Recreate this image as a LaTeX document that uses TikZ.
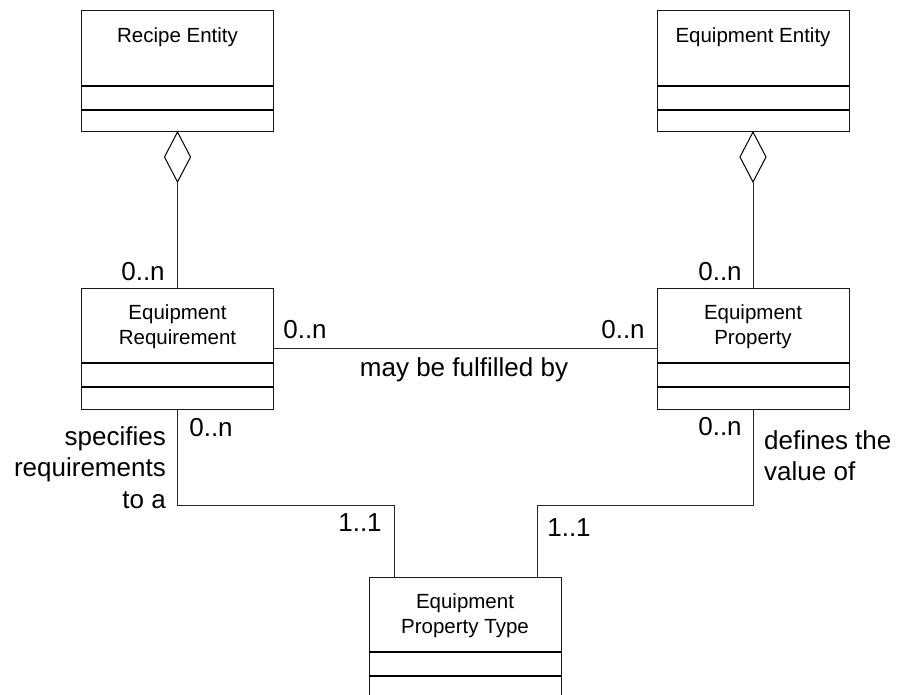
\documentclass[tikz,border=0pt]{standalone}
\usepackage{fontspec}
\setmainfont{Liberation Sans}
\usetikzlibrary{shapes.geometric}

\tikzset{
  classframe/.style={draw=black!90, line width=1pt, minimum width=192pt,
    minimum height=121pt, inner sep=0pt, outer sep=0pt},
  classtitle/.style={inner sep=0pt, align=center,
    font=\fontsize{20.5}{25}\selectfont},
  divider/.style={line width=1.5pt},
  aggr/.style={draw=black, line width=1pt, diamond, minimum width=26pt,
    minimum height=50pt, inner sep=0pt, outer sep=0pt},
  assoc/.style={draw=black!85, line width=1pt},
  lbl/.style={inner sep=0pt, font=\fontsize{26}{31.5}\selectfont},
}

% UML class box: name, centre x, top y, title text
\newcommand\classbox[4]{%
  \node[classframe, anchor=north] (#1) at (#2,#3) {};
  \node[classtitle, anchor=north] (#1-title) at ([yshift=-16pt]#1.north) {#4};
  \draw[divider] ([yshift=46pt]#1.south west) -- ([yshift=46pt]#1.south east);
  \draw[divider] ([yshift=22pt]#1.south west) -- ([yshift=22pt]#1.south east);
}

\begin{document}
\begin{tikzpicture}[x=1pt, y=-1pt]
  \useasboundingbox (0,0) rectangle (901,695);
  \clip (0,0) rectangle (901,695);

  % classes
  \classbox{re}{177.5}{11}{Recipe Entity}
  \classbox{ee}{753}{11}{Equipment Entity}
  \classbox{rq}{177.5}{288}{Equipment\\Requirement}
  \classbox{ep}{753}{288}{Equipment\\Property}
  \classbox{pt}{465}{577}{Equipment\\Property Type}

  % aggregations
  \node[aggr, anchor=north] (re-agg) at (re.south) {};
  \node[aggr, anchor=north] (ee-agg) at (ee.south) {};
  \draw[assoc] (re-agg.south) -- (rq.north);
  \draw[assoc] (ee-agg.south) -- (ep.north);
  \node[lbl] (m1) at (143,272) {0..n};
  \node[lbl] (m2) at (720,272) {0..n};

  % requirement -- property
  \draw[assoc] (rq.east) -- (ep.east -| ep.west);
  \node[lbl] (m3) at (305,330) {0..n};
  \node[lbl] (m4) at (623,330) {0..n};
  \node[lbl] (fulfil) at (464,370) {may be fulfilled by};

  % links to the property type
  \coordinate (jl) at (394,505);
  \coordinate (jr) at (537,505);
  \draw[assoc] (rq.south) |- (jl) -- (jl |- pt.north);
  \draw[assoc] (ep.south) |- (jr) -- (jr |- pt.north);
  \node[lbl] (m5) at (211,428) {0..n};
  \node[lbl] (m6) at (720,427) {0..n};
  \node[lbl] (m7) at (360,523) {1..1};
  \node[lbl] (m8) at (569,528) {1..1};
  \node[lbl, align=right, anchor=north east] (spec) at (166,426)
    {specifies\\requirements\\to a};
  \node[lbl, align=left, anchor=north west] (defs) at (764,430)
    {defines the\\value of};
\end{tikzpicture}
\end{document}
